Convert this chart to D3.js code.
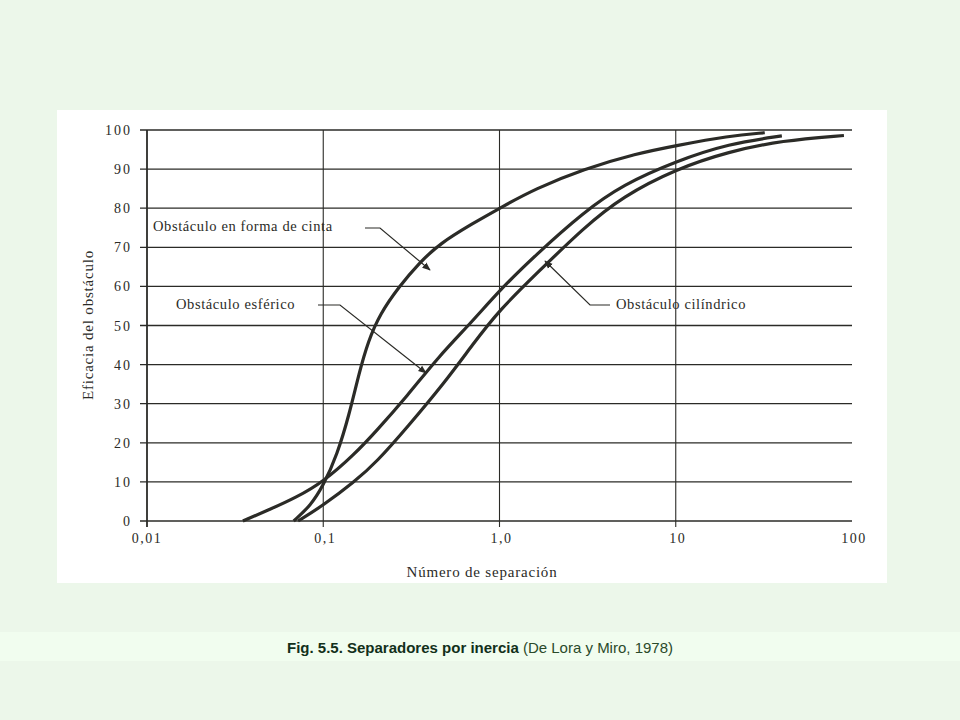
<!DOCTYPE html>
<html><head><meta charset="utf-8">
<script src="https://cdn.jsdelivr.net/npm/d3@7"></script>
<style>
body{margin:0;background:#ecf7ea;}
svg{display:block}
</style></head><body>
<svg id="c" width="960" height="720"></svg>
<script>
// curves: [separation number, efficiency %]
const cinta = [[0.068,0],[0.085,4],[0.1,9],[0.12,17],[0.14,27],[0.16,38],[0.18,46],[0.21,53],[0.27,60],[0.35,66],[0.46,71],[0.7,76],[1.0,80],[1.6,85],[3,90],[6,94],[10,96],[20,98.5],[32,99.3]];
const esferico = [[0.035,0],[0.05,3],[0.07,6],[0.1,10],[0.15,17],[0.2,23],[0.3,32],[0.45,42],[0.7,51],[1.0,59],[1.6,68],[3,79],[5,86],[10,92],[20,96.5],[40,98.5]];
const cilindrico = [[0.072,0],[0.1,4],[0.15,10],[0.2,15],[0.3,24],[0.5,36],[0.7,45],[1.0,54],[1.6,63],[3,75],[5,83],[10,90],[20,94.5],[40,97.3],[90,98.6]];
const xTicks = [0.01,0.1,1,10,100];
const xTickLabels = ["0,01","0,1","1,0","10","100"];
const yTicks = d3.range(0,101,10);

const svg = d3.select("#c");
svg.append("rect").attr("x",57).attr("y",110).attr("width",830).attr("height",473).attr("fill","#fff");
svg.append("rect").attr("x",0).attr("y",632).attr("width",960).attr("height",29).attr("fill","#f1fdef");

const x = d3.scaleLog().domain([0.01,100]).range([147,852]);
const y = d3.scaleLinear().domain([0,100]).range([521,130]);
const ink = "#2b2b27", serif = "'Liberation Serif','DejaVu Serif',serif";

const g = svg.append("g");
g.selectAll(".hg").data(yTicks).join("line")
  .attr("x1",140).attr("x2",852).attr("y1",d=>y(d)).attr("y2",d=>y(d))
  .attr("stroke",ink).attr("stroke-width",1.3);
g.selectAll(".vg").data(xTicks.slice(0,4)).join("line")
  .attr("x1",d=>x(d)).attr("x2",d=>x(d)).attr("y1",130).attr("y2",527)
  .attr("stroke",ink).attr("stroke-width",d=>d===0.01?1.8:1.1);
g.selectAll(".yl").data(yTicks).join("text")
  .attr("x",132).attr("y",d=>y(d)+5).attr("text-anchor","end")
  .attr("font-family",serif).attr("font-size",14).attr("letter-spacing",2).attr("fill",ink).text(d=>d);
g.selectAll(".xl").data(xTicks).join("text")
  .attr("x",(d,i)=>x(d)+(i===0?0:2)).attr("y",543).attr("text-anchor","middle")
  .attr("font-family",serif).attr("font-size",14).attr("letter-spacing",1.5).attr("fill",ink).text((d,i)=>xTickLabels[i]);

const line = d3.line().x(d=>x(d[0])).y(d=>y(d[1])).curve(d3.curveBasis);
[cinta,esferico,cilindrico].forEach(s=>{
  g.append("path").attr("d",line(s)).attr("fill","none").attr("stroke",ink).attr("stroke-width",3.2);
});

svg.append("defs").append("marker").attr("id","ar").attr("viewBox","0 0 10 10")
  .attr("refX",9).attr("refY",5).attr("markerWidth",7).attr("markerHeight",7).attr("orient","auto")
  .append("path").attr("d","M0,1L10,5L0,9z").attr("fill",ink);

function label(txt, tx, ty, anchor, pts){
  g.append("text").attr("x",tx).attr("y",ty).attr("text-anchor",anchor)
    .attr("font-family",serif).attr("font-size",14.5).attr("letter-spacing",0.6).attr("fill",ink).text(txt);
  g.append("polyline").attr("points",pts.map(p=>p.join(",")).join(" "))
    .attr("fill","none").attr("stroke",ink).attr("stroke-width",1.2).attr("marker-end","url(#ar)");
}
label("Obstáculo en forma de cinta",153,231,"start",[[365,228],[380,228],[430,270]]);
label("Obstáculo esférico",176,309,"start",[[318,305],[340,305],[426,373]]);
label("Obstáculo cilíndrico",616,309,"start",[[610,305],[590,305],[545,261]]);

svg.append("text").attr("transform","translate(93,325) rotate(-90)").attr("text-anchor","middle")
  .attr("font-family",serif).attr("font-size",15).attr("letter-spacing",0.8).attr("fill",ink).text("Eficacia del obstáculo");
svg.append("text").attr("x",482).attr("y",577).attr("text-anchor","middle")
  .attr("font-family",serif).attr("font-size",15).attr("letter-spacing",0.8).attr("fill",ink).text("Número de separación");

const cap = svg.append("text").attr("x",480).attr("y",653).attr("text-anchor","middle")
  .attr("font-family","'Liberation Sans Narrow','Liberation Sans',Arial,sans-serif").attr("font-size",15);
cap.append("tspan").attr("font-weight","bold").attr("fill","#12301a").text("Fig. 5.5. Separadores por inercia");
cap.append("tspan").attr("fill","#2a4a2a").text(" (De Lora y Miro, 1978)");
</script>
</body></html>
